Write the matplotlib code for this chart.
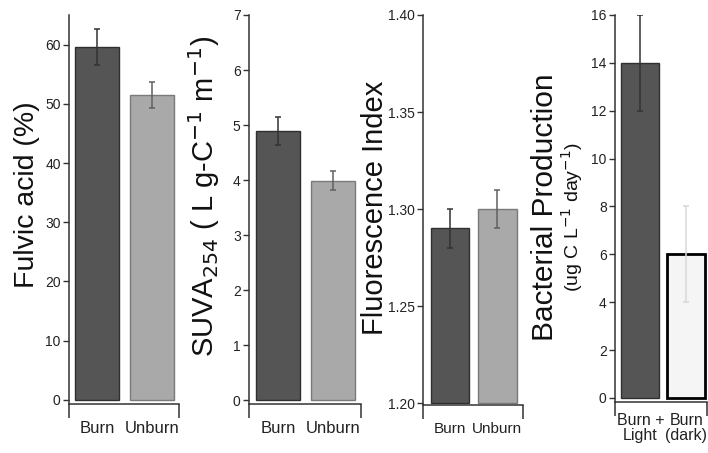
import matplotlib
matplotlib.use("Agg")
import matplotlib.pyplot as plt

plt.rcParams['font.family'] = ['Liberation Sans Narrow', 'Liberation Sans', 'DejaVu Sans']

# fulvic acid (%)
fulvic_groups = ["Burn", "Unburn"]
fulvic_mean = [59.6, 51.5]
fulvic_err = [3.0, 2.2]

# SUVA254
suva_groups = ["Burn", "Unburn"]
suva_mean = [4.89, 3.99]
suva_err = [0.26, 0.17]

# fluorescence index
fi_groups = ["Burn", "Unburn"]
fi_mean = [1.29, 1.30]
fi_err = [0.01, 0.01]

# bacterial production
bp_groups = ["Burn +\nLight", "Burn\n(dark)"]
bp_mean = [14.0, 6.0]
bp_err = [2.0, 2.0]

W, H = 708, 453
fig = plt.figure(figsize=(W / 100, H / 100), dpi=100)

AX_COL = "#333333"
LABEL_FONT = ['Liberation Sans', 'DejaVu Sans']


def make_axes(x0, x1, ytop, ybot):
    return fig.add_axes([x0 / W, 1 - ybot / H, (x1 - x0) / W, (ybot - ytop) / H])


def style_axes(ax, xlim, ylim, yticks, yfmt, groups, label_pad=12, xsize=12):
    ax.set_xlim(*xlim)
    ax.set_ylim(*ylim)
    for s in ("top", "right"):
        ax.spines[s].set_visible(False)
    for s in ("left", "bottom"):
        ax.spines[s].set_color(AX_COL)
        ax.spines[s].set_linewidth(1.1)
    ax.set_yticks(yticks)
    ax.set_yticklabels([yfmt.format(v) for v in yticks])
    ax.tick_params(axis="y", length=4, width=1, color=AX_COL, pad=2,
                   labelsize=10, labelcolor="#222222")
    ax.set_xticks(range(len(groups)))
    ax.set_xticklabels(groups, linespacing=1.0)
    ax.tick_params(axis="x", which="major", length=0, pad=label_pad,
                   labelsize=xsize, labelcolor="#222222")
    # end ticks on the category axis
    ax.set_xticks(list(xlim), minor=True)
    ax.tick_params(axis="x", which="minor", length=10, width=1.1,
                   color=AX_COL, direction="out")


def draw_bars(ax, means, errs, fills, edges, ecols, width, bottom=0, lws=None):
    x = list(range(len(means)))
    lws = lws or [1.0] * len(means)
    for i in x:
        ax.bar(i, means[i] - bottom, bottom=bottom, width=width, color=fills[i],
               edgecolor=edges[i], linewidth=lws[i], zorder=2)
        ax.errorbar(i, means[i], yerr=errs[i], fmt="none", ecolor=ecols[i],
                    elinewidth=1.1, capsize=2.5, capthick=1.1, zorder=3)


DARK, LIGHT = "#555555", "#a9a9a9"
DARK_EDGE, LIGHT_EDGE = "#303030", "#7a7a7a"

# Fulvic acid
ax1 = make_axes(69, 179, 15, 404)
draw_bars(ax1, fulvic_mean, fulvic_err, [DARK, LIGHT], [DARK_EDGE, LIGHT_EDGE],
          ["#333333", "#606060"], 0.8)
style_axes(ax1, (-0.51, 1.49), (-0.7, 65), range(0, 61, 10), "{:d}", fulvic_groups)
fig.text(27 / W, 1 - 195 / H, "Fulvic acid (%)", rotation=90, ha="center",
         va="center", fontsize=20.5, family=LABEL_FONT, color="#111111")

# SUVA254
ax2 = make_axes(249, 361, 15, 404)
draw_bars(ax2, suva_mean, suva_err, [DARK, LIGHT], [DARK_EDGE, LIGHT_EDGE],
          ["#333333", "#606060"], 0.8)
style_axes(ax2, (-0.52, 1.50), (-0.07, 7), range(0, 8), "{:d}", suva_groups)
fig.text(204 / W, 1 - 196 / H, r"SUVA$_{254}$ ( L g-C$^{-1}$ m$^{-1}$)",
         rotation=90, ha="center", va="center", fontsize=21, family=LABEL_FONT,
         color="#111111")

# Fluorescence index
ax3 = make_axes(423, 523, 15, 405)
draw_bars(ax3, fi_mean, fi_err, [DARK, LIGHT], [DARK_EDGE, LIGHT_EDGE],
          ["#333333", "#606060"], 0.82, bottom=1.20)
style_axes(ax3, (-0.57, 1.54), (1.199, 1.40), [1.20, 1.25, 1.30, 1.35, 1.40],
           "{:.2f}", fi_groups, xsize=11)
fig.text(375 / W, 1 - 208 / H, "Fluorescence Index", rotation=90, ha="center",
         va="center", fontsize=21, family=LABEL_FONT, color="#111111")

# Bacterial production
ax4 = make_axes(615, 707, 15, 402)
draw_bars(ax4, bp_mean, bp_err, [DARK, "#f5f5f5"], [DARK_EDGE, "#000000"],
          ["#333333", "#d8d8d8"], 0.82, lws=[1.0, 2.0])
style_axes(ax4, (-0.55, 1.45), (-0.17, 16), range(0, 17, 2), "{:d}", bp_groups,
           label_pad=8, xsize=11.5)
fig.text(545 / W, 1 - 207 / H, "Bacterial Production", rotation=90, ha="center",
         va="center", fontsize=21.5, family=LABEL_FONT, color="#111111")
fig.text(572 / W, 1 - 217 / H, r"(ug C L$^{-1}$ day$^{-1}$)", rotation=90,
         ha="center", va="center", fontsize=14, family=LABEL_FONT, color="#111111")

fig.savefig("out.png", dpi=100)
